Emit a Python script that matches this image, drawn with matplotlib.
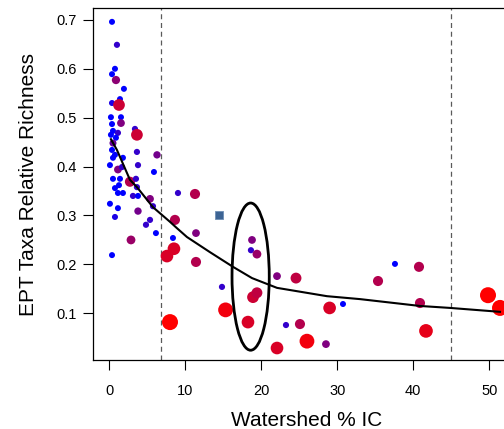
import numpy as np
import matplotlib
matplotlib.use("Agg")
import matplotlib.pyplot as plt
from matplotlib.patches import Ellipse

plt.rcParams["font.family"] = ["Liberation Sans", "DejaVu Sans"]

# ------------------------------------------------------------
# Data
# ------------------------------------------------------------
# site points: watershed % IC, EPT relative richness, impact score (0 = blue, 1 = red)
ic = [
    0.36, 1.01, 0.75, 0.36, 0.88, 1.93, 1.41, 0.36, 1.28, 0.22,
    1.54, 1.54, 0.36, 0.49, 1.14, 3.38, 3.64, 0.22, 0.88, 0.49,
    3.64, 6.28, 0.36, 0.75, 1.80, 0.49, 0.09, 1.14, 1.67, 3.78,
    5.88, 0.49, 1.41, 2.72, 3.51, 0.75, 1.28, 3.64, 1.14, 1.80,
    3.12, 3.78, 5.36, 0.09, 1.14, 3.78, 0.75, 5.36, 4.83, 9.04,
    11.28, 5.75, 8.64, 6.14, 11.41, 8.38, 2.86, 0.36, 7.59, 8.51,
    11.41, 14.83, 7.99, 15.30, 18.78, 18.64, 19.43, 22.07, 24.57, 18.91,
    19.43, 18.25, 28.99, 30.75, 23.25, 25.09, 26.01, 28.51, 22.07, 37.59,
    35.36, 40.75, 40.88, 41.67, 49.83, 51.41,
]
ept = [
    0.696, 0.649, 0.600, 0.589, 0.577, 0.559, 0.538, 0.530, 0.526, 0.501,
    0.501, 0.489, 0.487, 0.473, 0.469, 0.477, 0.465, 0.465, 0.459, 0.448,
    0.430, 0.424, 0.434, 0.424, 0.418, 0.418, 0.403, 0.394, 0.399, 0.403,
    0.389, 0.375, 0.375, 0.369, 0.375, 0.356, 0.362, 0.358, 0.346, 0.346,
    0.340, 0.340, 0.334, 0.324, 0.315, 0.309, 0.297, 0.291, 0.281, 0.346,
    0.344, 0.319, 0.291, 0.264, 0.264, 0.254, 0.250, 0.219, 0.217, 0.232,
    0.205, 0.154, 0.082, 0.107, 0.250, 0.229, 0.221, 0.176, 0.172, 0.133,
    0.142, 0.082, 0.111, 0.119, 0.076, 0.078, 0.043, 0.037, 0.029, 0.201,
    0.166, 0.195, 0.121, 0.064, 0.137, 0.111,
]
impact = [
    0.0, 0.2, 0.0, 0.0, 0.55, 0.0, 0.0, 0.1, 0.8, 0.0,
    0.0, 0.5, 0.0, 0.0, 0.2, 0.2, 0.8, 0.0, 0.0, 0.4,
    0.2, 0.45, 0.0, 0.0, 0.0, 0.0, 0.0, 0.5, 0.2, 0.2,
    0.0, 0.0, 0.0, 0.7, 0.2, 0.0, 0.0, 0.2, 0.0, 0.0,
    0.2, 0.0, 0.5, 0.0, 0.0, 0.45, 0.1, 0.2, 0.2, 0.2,
    0.7, 0.2, 0.7, 0.0, 0.5, 0.0, 0.6, 0.0, 0.85, 0.85,
    0.7, 0.2, 1.0, 0.95, 0.5, 0.2, 0.6, 0.5, 0.75, 0.8,
    0.75, 0.85, 0.85, 0.0, 0.2, 0.7, 0.95, 0.5, 0.85, 0.0,
    0.7, 0.7, 0.7, 0.9, 1.0, 1.0,
]

# single reference site (square marker)
ref_ic = [14.5]
ref_ept = [0.301]

# smoothed trend line
trend_ic = [0.22, 1.01, 2.72, 3.64, 5.75, 7.99, 8.91, 10.22, 13.25, 16.28,
            18.78, 22.07, 28.64, 32.99, 40.88, 44.83, 51.41]
trend_ept = [0.456, 0.434, 0.373, 0.358, 0.317, 0.287, 0.274, 0.256, 0.225, 0.195,
             0.172, 0.152, 0.135, 0.129, 0.115, 0.111, 0.103]

# thresholds (dashed lines)
thresholds = [6.8, 45.0]

# highlighted group (ellipse): centre, width, height in data units
ellipse_centre = (18.6, 0.175)
ellipse_size = (4.9, 0.301)

x_ticks = [0, 10, 20, 30, 40, 50]
y_ticks = [0.1, 0.2, 0.3, 0.4, 0.5, 0.6, 0.7]

# ------------------------------------------------------------
# Plot
# ------------------------------------------------------------
impact = np.array(impact)
colors = np.column_stack([impact, np.zeros_like(impact), 1 - impact])
diam_px = 6 + 10 * impact ** 2.5
sizes = (diam_px * 0.72) ** 2

fig = plt.figure(figsize=(5.04, 4.29), dpi=100)
ax = fig.add_axes([93 / 504, 69 / 429, 427 / 504, 352 / 429])

for xv in thresholds:
    ax.axvline(xv, color="#5a5a5a", linestyle=(0, (4, 3)), linewidth=0.9, zorder=1)

ax.scatter(ic, ept, s=sizes, c=colors, edgecolors="none", zorder=2)
ax.scatter(ref_ic, ref_ept, s=40, marker="s", color="#3d6494",
           edgecolors="#6f8fb5", linewidths=0.6, zorder=2)

ax.plot(trend_ic, trend_ept, color="black", linewidth=1.5, zorder=3)

ax.add_patch(Ellipse(ellipse_centre, ellipse_size[0], ellipse_size[1],
                     fill=False, edgecolor="black", linewidth=2, zorder=4))

ax.set_xlim(-2.14, 54.04)
ax.set_ylim(0.0045, 0.7243)
ax.set_xticks(x_ticks)
ax.set_yticks(y_ticks)
ax.set_yticklabels([f"{v:.1f}" for v in y_ticks])
ax.tick_params(direction="out", length=7, width=0.8, labelsize=10.5)
ax.tick_params(axis="x", pad=10)
ax.tick_params(axis="y", pad=5)
for sp in ax.spines.values():
    sp.set_linewidth(0.9)

ax.set_xlabel("Watershed % IC", fontsize=15, labelpad=10)
ax.set_ylabel("EPT Taxa Relative Richness", fontsize=15, labelpad=13)

fig.savefig("out.png", dpi=100)
